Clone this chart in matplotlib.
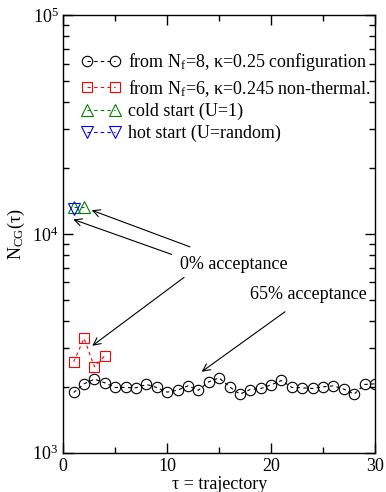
import matplotlib
matplotlib.use('Agg')
import matplotlib.pyplot as plt
from matplotlib.ticker import MultipleLocator, LogLocator, NullFormatter

plt.rcParams['font.family'] = ['Liberation Serif', 'DejaVu Serif']
plt.rcParams['mathtext.fontset'] = 'custom'
plt.rcParams['mathtext.rm'] = 'Liberation Serif'
plt.rcParams['mathtext.it'] = 'Liberation Serif:italic'
plt.rcParams['font.size'] = 13

# N_CG per trajectory, Nf=8 kappa=0.25 start
tau_nf8 = list(range(1, 31))
ncg_nf8 = [1884, 2064, 2168, 2086, 1986, 1986, 1979, 2050, 1986, 1891,
           1931, 2021, 1931, 2108, 2198, 2000, 1852, 1944, 1965, 2042,
           2138, 1986, 1979, 1965, 2000, 2021, 1951, 1852, 2050, 2064]

# Nf=6 kappa=0.245 non-thermalized start
tau_nf6 = [1, 2, 3, 4]
ncg_nf6 = [2604, 3330, 2470, 2773]

# cold and hot starts
tau_cold = [1, 2]
ncg_cold = [13280, 13280]
tau_hot = [1]
ncg_hot = [12966]

fig = plt.figure(figsize=(3.86, 4.92), dpi=100)
ax = fig.add_axes([0.164, 0.0799, 0.8075, 0.8896])

dash = (0, (3, 3))
ax.plot(tau_nf8, ncg_nf8, linestyle=dash, color='black', lw=0.8,
        marker='o', ms=7.5, mfc='none', mec='black', mew=0.8,
        label=r'from N$_\mathrm{f}$=8, κ=0.25 configuration')
ax.plot(tau_nf6, ncg_nf6, linestyle=dash, color='red', lw=0.8,
        marker='s', ms=7.5, mfc='none', mec='red', mew=0.8,
        label=r'from N$_\mathrm{f}$=6, κ=0.245 non-thermal.')
ax.plot(tau_cold, ncg_cold, linestyle=dash, color='green', lw=0.8,
        marker='^', ms=8.5, mfc='none', mec='green', mew=0.8,
        label='cold start (U=1)')
ax.plot(tau_hot, ncg_hot, linestyle=dash, color='blue', lw=0.8,
        marker='v', ms=8.5, mfc='none', mec='blue', mew=0.8,
        label='hot start (U=random)')

ax.set_yscale('log')
ax.set_xlim(0, 30)
ax.set_ylim(1e3, 1e5)

ax.xaxis.set_major_locator(MultipleLocator(10))
ax.xaxis.set_minor_locator(MultipleLocator(5))
ax.yaxis.set_major_locator(LogLocator(base=10))
ax.yaxis.set_minor_locator(LogLocator(base=10, subs=range(2, 10)))
ax.yaxis.set_minor_formatter(NullFormatter())
ax.tick_params(which='both', direction='in', top=True, right=True, labelsize=13)
ax.tick_params(which='major', length=7, width=1)
ax.tick_params(which='minor', length=4, width=1)
for s in ax.spines.values():
    s.set_linewidth(1)

ax.set_xlabel('τ = trajectory', fontsize=13, labelpad=1)
ax.set_ylabel(r'N$_\mathrm{CG}$(τ)', fontsize=13, labelpad=4)

arrow = dict(arrowstyle='->', color='black', lw=0.8, shrinkA=0, shrinkB=0)
ax.annotate('', xy=(2.73, 12820), xytext=(12.19, 8722), arrowprops=arrow)
ax.annotate('', xy=(0.96, 11637), xytext=(10.43, 8054), arrowprops=arrow)
ax.annotate('', xy=(2.79, 3080), xytext=(11.62, 6324), arrowprops=arrow)
ax.annotate('', xy=(13.32, 2344), xytext=(21.34, 4406), arrowprops=arrow)
ax.text(11.23, 7271, '0% acceptance', fontsize=13, va='center', ha='left')
ax.text(17.97, 5305, '65% acceptance', fontsize=13, va='center', ha='left')

ax.legend(loc='upper left', bbox_to_anchor=(0.06, 0.917), frameon=False,
          fontsize=13, numpoints=2, handlelength=2.1, handletextpad=0.45,
          labelspacing=0.25, borderaxespad=0, borderpad=0)

fig.savefig('out.png', dpi=100)
